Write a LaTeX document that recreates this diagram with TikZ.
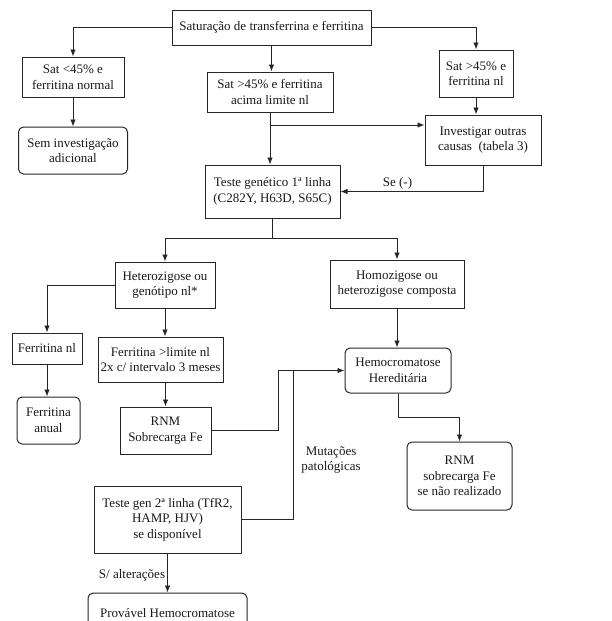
\documentclass[tikz,border=0pt]{standalone}
\usepackage{fontspec}
\setmainfont{Liberation Serif}
\usetikzlibrary{arrows.meta}
\begin{document}
\begin{tikzpicture}
  [x=1pt,y=-1pt,
    every node/.style={font=\fontsize{13}{15.5}\selectfont,align=center,inner sep=2pt,text=black!90},
    box/.style={draw=black!85,line width=1pt},
    rbox/.style={box,rounded corners=5pt},
    arr/.style={draw=black!85,line width=0.9pt,-{Latex[length=7pt,width=5.5pt]}},
    line/.style={draw=black!85,line width=0.9pt},
  ]
  \useasboundingbox (0,0) rectangle (611,621);
  \clip (0,0) rectangle (611,621);
  \node[box,minimum width=199,minimum height=35] (sat) at (271.5,27.5) {Saturação de transferrina e ferritina};
  \node[box,minimum width=102,minimum height=40] (low) at (73,77) {Sat <45\% e\\ferritina normal};
  \node[rbox,minimum width=109,minimum height=47] (sem) at (73,150.5) {Sem investigação\\adicional};
  \node[box,minimum width=126,minimum height=40] (high) at (270,92) {Sat >45\% e ferritina\\acima limite nl};
  \node[box,minimum width=74,minimum height=47] (nl) at (476,73.5) {Sat >45\% e\\ferritina nl};
  \node[box,minimum width=116,minimum height=50] (inv) at (483,140) {Investigar outras\\causas~~(tabela 3)};
  \node[box,minimum width=135,minimum height=53] (gen1) at (272.5,191.5) {Teste genético 1ª linha\\(C282Y, H63D, S65C)};
  \node[box,minimum width=100,minimum height=46] (het) at (165,285) {Heterozigose ou\\genótipo nl*};
  \node[box,minimum width=134,minimum height=48] (hom) at (397,284) {Homozigose ou\\heterozigose composta};
  \node[box,minimum width=70,minimum height=31] (fnl) at (47,348.5) {Ferritina nl};
  \node[rbox,minimum width=63,minimum height=47] (fan) at (48.5,420.5) {Ferritina\\anual};
  \node[box,minimum width=125,minimum height=45] (flim) at (160.5,359.5) {Ferritina >limite nl\\2x c/ intervalo 3 meses};
  \node[box,minimum width=91,minimum height=47] (rnm) at (165.5,430.5) {RNM\\Sobrecarga Fe};
  \node[rbox,minimum width=106,minimum height=45] (hh) at (398,370.5) {Hemocromatose\\Hereditária};
  \node[rbox,minimum width=105,minimum height=68] (rnm2) at (459.5,476) {RNM\\sobrecarga Fe\\se não realizado};
  \node[box,minimum width=147,minimum height=67] (gen2) at (167.5,519.5) {Teste gen 2ª linha (TfR2,\\HAMP, HJV)\\se disponível};
  \node[rbox,minimum width=159,minimum height=40] (prov) at (167.5,613) {Provável Hemocromatose};

  \draw[arr] (sat.west) -| (low.north);
  \draw[arr] (sat.south) -- (sat.south |- high.north);
  \draw[arr] (sat.east) -| (nl.north);
  \draw[arr] (low.south) -- (sem.north);
  \draw[arr] (nl.south) -- (nl.south |- inv.north);
  \draw[arr] (high.south) -- (high.south |- gen1.north);
  \coordinate (br) at (270,125);
  \draw[arr] (br) -- (br -| inv.west);
  \draw[arr] (inv.south) |- (gen1.east) node[pos=0.8,above] {Se (-)};
  \draw[line] (gen1.south) -- ++(0,20) coordinate (split);
  \draw[arr] (split) -| (het.north);
  \draw[arr] (split) -| (hom.north);
  \draw[arr] (het.west) -| (fnl.north);
  \draw[arr] (fnl.south) -- (fnl.south |- fan.north);
  \draw[arr] (het.south) -- (het.south |- flim.north);
  \draw[arr] (rnm.north |- flim.south) -- (rnm.north);
  \draw[arr] (rnm.east) -- ++(67,0) |- (hh.west);
  \draw[arr] (hom.south) -- (hom.south |- hh.north);
  \draw[arr] (hh.south) -- ++(0,24) -| (rnm2.north);
  \coordinate (jn) at (293,370.5);
  \draw[line] (gen2.east) -| (jn) node[pos=0.7,right,xshift=6pt] {Mutações\\patológicas};
  \draw[arr] (gen2.south) -- (prov.north) node[midway,left,yshift=-2pt] {S/ alterações};
\end{tikzpicture}
\end{document}
